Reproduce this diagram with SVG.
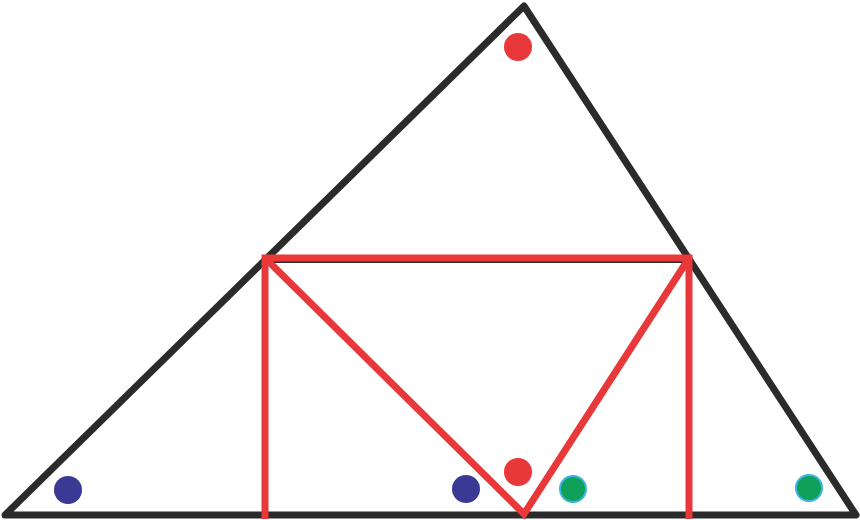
<svg xmlns="http://www.w3.org/2000/svg" width="860" height="520" viewBox="0 0 860 520">
<style>
.blk{fill:none;stroke:#2b2b2b;stroke-width:7;stroke-linejoin:round;stroke-linecap:round}
.thin{fill:none;stroke:#2b2b2b;stroke-width:2}
.red{fill:none;stroke:#e8383a;stroke-width:7;stroke-linejoin:miter;stroke-linecap:butt}
.rd{fill:#e8383a}
.bl{fill:#3a3a94}
.gr{fill:#0fa05a;stroke:#3cb4e0;stroke-width:2}
</style>
<rect width="860" height="520" fill="#ffffff"/>
<g id="triangle">
<polygon class="blk" points="5,515 524,6 856,515"/>
</g>
<g id="connectors">
<line class="thin" x1="265" y1="262" x2="689" y2="262"/>
<polyline class="red" points="265,519 265,258 689,258 689,519"/>
<polyline class="red" points="265,258 524,514 689,258"/>
</g>
<g id="dots">
<circle id="dot-top" class="rd" cx="518" cy="47" r="14"/>
<circle id="dot-mid" class="rd" cx="518" cy="472" r="14"/>
<circle id="dot-blue1" class="bl" cx="68" cy="490" r="14"/>
<circle id="dot-blue2" class="bl" cx="466" cy="489" r="14"/>
<circle id="dot-green1" class="gr" cx="573" cy="489" r="13"/>
<circle id="dot-green2" class="gr" cx="809" cy="488" r="13"/>
</g>
</svg>
